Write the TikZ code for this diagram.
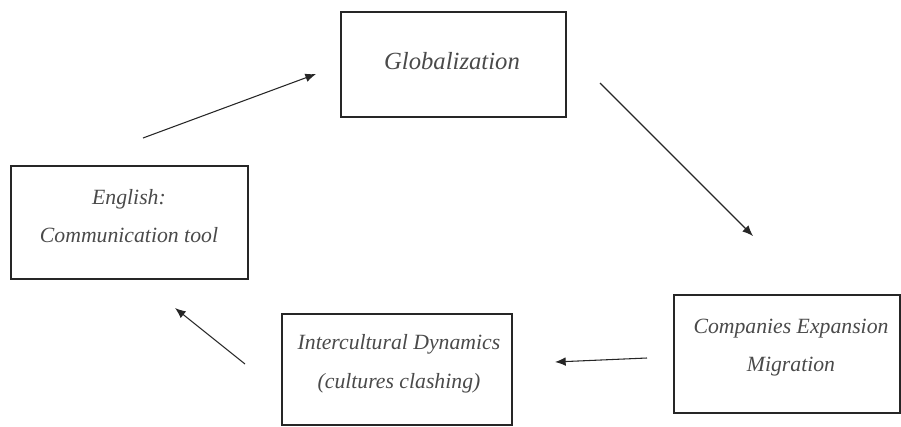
\documentclass[tikz,border=0pt]{standalone}
\usepackage{fontspec}
\setmainfont{Liberation Serif}
\usetikzlibrary{arrows.meta}
\definecolor{textgray}{HTML}{4A4A4A}

\tikzset{
  stagebox/.style={draw=black!85, line width=0.8pt, inner sep=0pt, outer sep=0pt},
  stagetext/.style={align=center, text=textgray, font=\fontsize{16.3}{29}\selectfont\itshape},
  flow/.style={-{Latex[length=8pt,width=6.5pt]}, line width=0.8pt, black!85}
}

\begin{document}
\begin{tikzpicture}[x=0.75pt,y=-0.75pt]
\useasboundingbox (0,0) rectangle (901,426);

% boxes
\node [stagebox, minimum width=168.75pt, minimum height=78.75pt] (glob) at (453.5,64.5) {};
\node [stagebox, minimum width=177.75pt, minimum height=84.75pt] (engl) at (129.5,222.5) {};
\node [stagebox, minimum width=172.5pt, minimum height=83.25pt] (inter) at (397,369.5) {};
\node [stagebox, minimum width=169.5pt, minimum height=88.5pt] (comp) at (787,354) {};

% texts
\node [stagetext, font=\fontsize{18.5}{29}\selectfont\itshape] (globtxt) at (452,61) {Globalization};
\node [stagetext] (engltxt) at (129,216) {English:\\Communication tool};
\node [stagetext] (intertxt) at (399,364) {Intercultural Dynamics\\(cultures clashing)};
\node [stagetext] (comptxt) at (791,347.5) {Companies Expansion\\Migration};

% arrow ends
\coordinate (a1) at (143,138);  \coordinate (b1) at (316,74);
\coordinate (a2) at (600,83);   \coordinate (b2) at (753,236);
\coordinate (a3) at (647,358);  \coordinate (b3) at (555,362);
\coordinate (a4) at (245,364);  \coordinate (b4) at (175,308);

\draw [flow] (a1) -- (b1);
\draw [flow] (a2) -- (b2);
\draw [flow] (a3) -- (b3);
\draw [flow] (a4) -- (b4);
\end{tikzpicture}
\end{document}
